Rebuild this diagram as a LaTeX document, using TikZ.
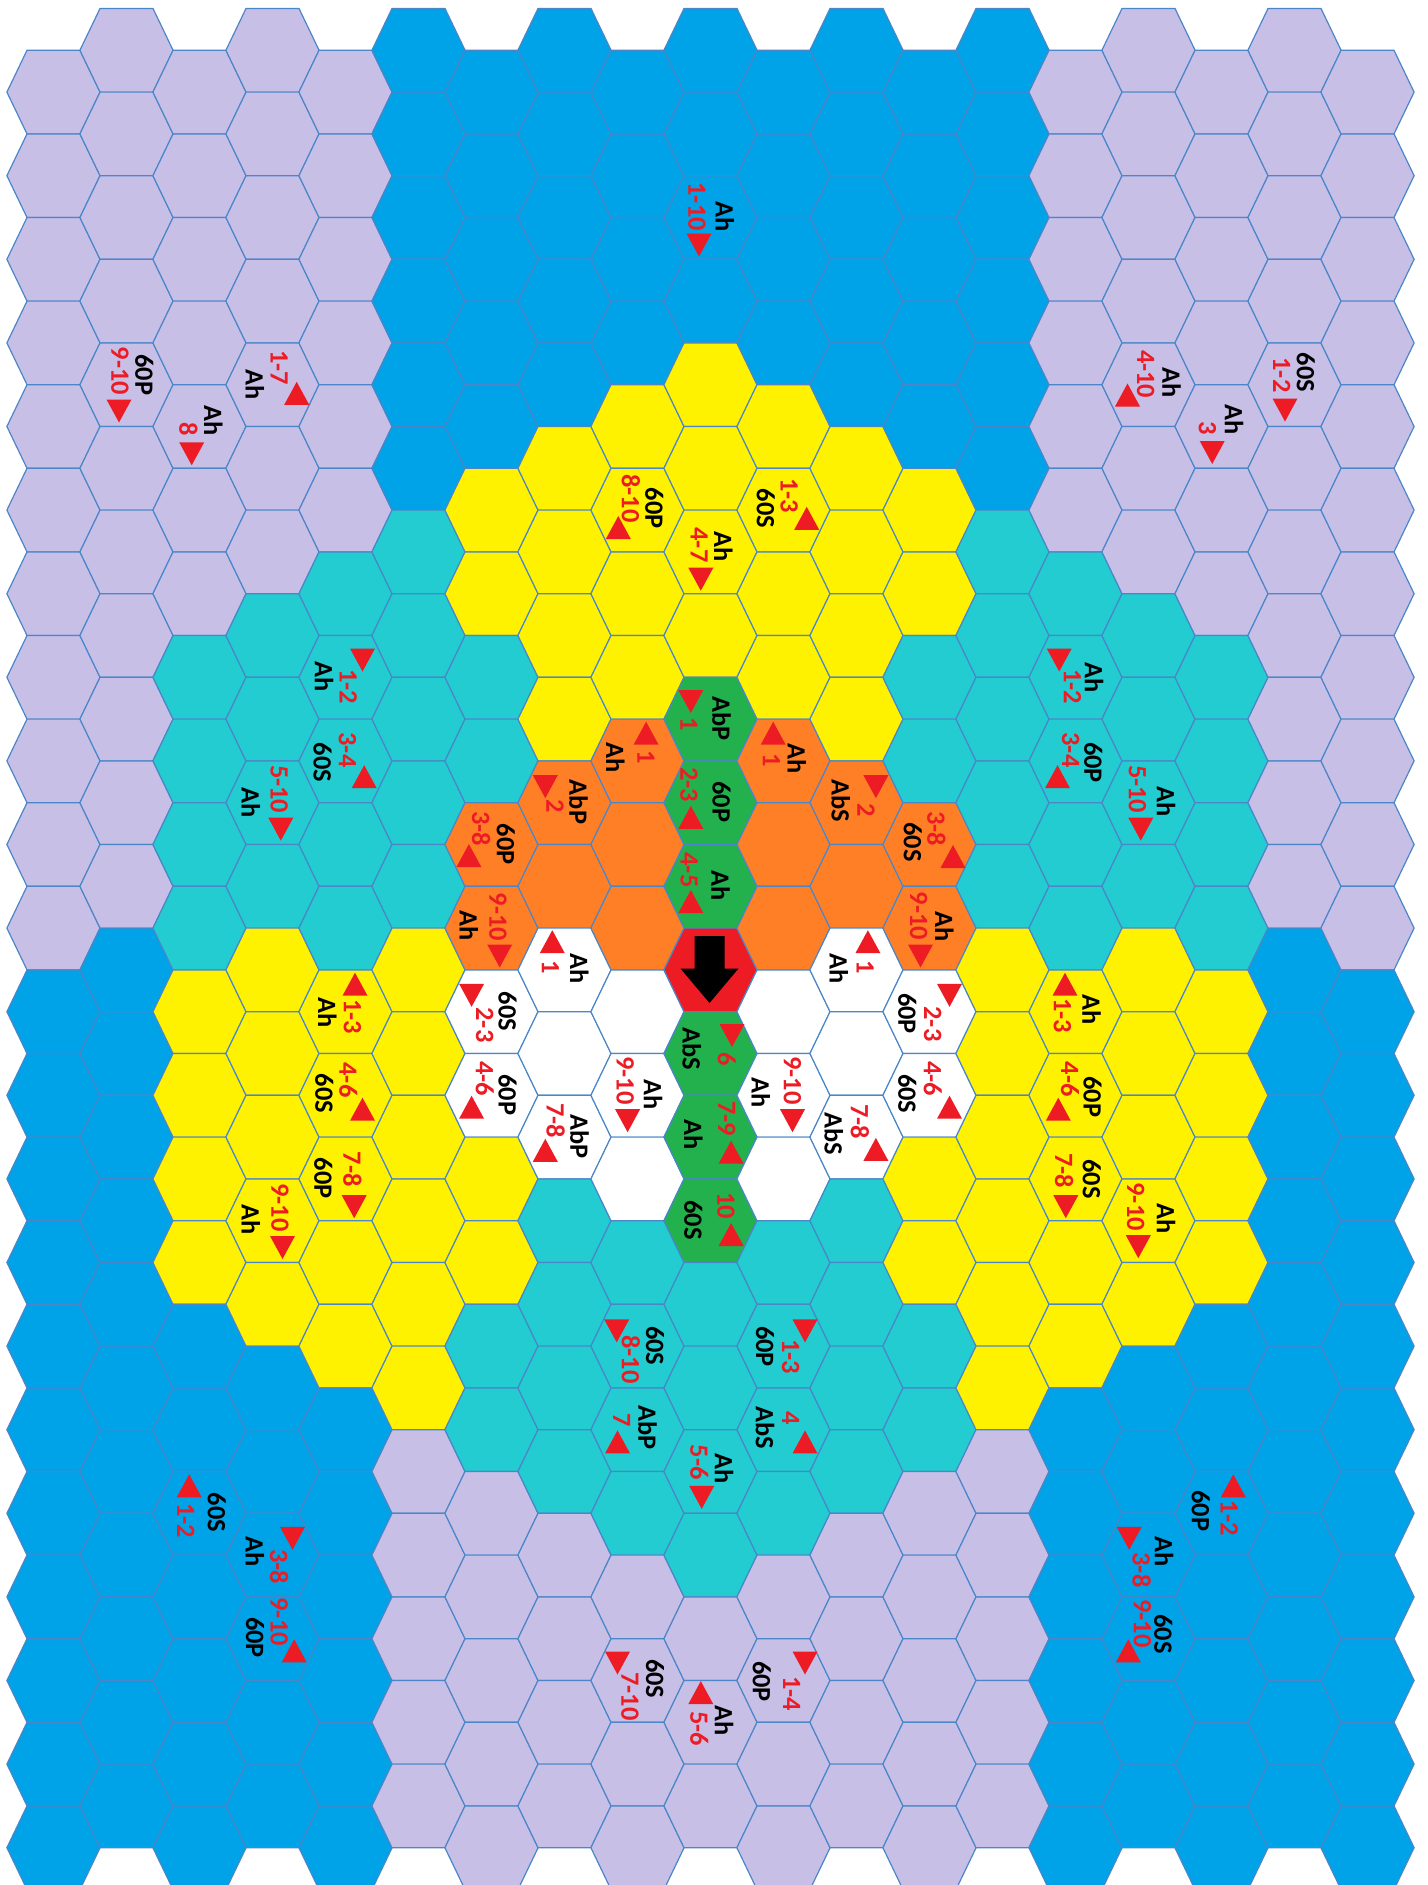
\documentclass[tikz,border=0pt]{standalone}
\usepackage{fontspec}
\setmainfont{Carlito}
\definecolor{clav}{HTML}{C8BFE7}
\definecolor{cblue}{HTML}{00A2E8}
\definecolor{cteal}{HTML}{22CCD0}
\definecolor{cyel}{HTML}{FFF200}
\definecolor{corange}{HTML}{FF7F27}
\definecolor{cgreen}{HTML}{22B14C}
\definecolor{cred}{HTML}{ED1C24}
\definecolor{cedge}{HTML}{4A86C8}
\tikzset{
  blk/.style={rotate=-90, inner sep=0pt, font=\fontsize{13.2}{14}\selectfont\bfseries, text=black},
  rd/.style={blk, text=cred},
  hexcell/.style={draw=cedge, line width=0.6pt}
}
\newcommand\lab[5]{\node[blk] (#1b) at (#2) {#3}; \node[rd] (#1r) at (#4) {#5};}
\newcommand\tridn[1]{\fill[cred,shift={(#1)}] (-12.5,-11.5)--(12.5,-11.5)--(0,11.5)--cycle;}
\newcommand\triup[1]{\fill[cred,shift={(#1)}] (-12.5,11.5)--(12.5,11.5)--(0,-11.5)--cycle;}
\begin{document}
\begin{tikzpicture}[x=0.5pt,y=-0.5pt]
\useasboundingbox (0,0) rectangle (1428,1885);
\clip (0,0) rectangle (1428,1885);
\fill[white] (0,0) rectangle (1428,1885);
\foreach \c in {0,...,18}{
  \foreach \r in {0,...,21}{
    \pgfmathtruncatemacro\hOdd{mod(\c,2)}
    \pgfmathtruncatemacro\hY{2*\r+1-\hOdd}
    \pgfmathtruncatemacro\hDx{abs(\c-9)}
    \pgfmathtruncatemacro\hDy{abs(\hY-22)}
    \pgfmathtruncatemacro\hDist{\hDx+max(0,(\hDy-\hDx)/2)}
    \pgfmathtruncatemacro\hBelow{\hY>21 ? 1 : 0}
    \pgfmathtruncatemacro\hNw{\hDy>3*\hDx-1 ? 1 : 0}
    \pgfmathtruncatemacro\hBigc{\hDx>4 ? 1 : 0}
    \ifnum\hDist=0 \def\hCol{cred}%
    \else\ifnum\hDist<4
      \ifnum\hDx=0 \def\hCol{cgreen}\else\ifnum\hBelow=1 \def\hCol{white}\else\def\hCol{corange}\fi\fi
    \else\ifnum\hDist<8
      \ifnum\hNw=\hBelow \def\hCol{cteal}\else\def\hCol{cyel}\fi
    \else
      \ifnum\hBigc=\hBelow \def\hCol{cblue}\else\def\hCol{clav}\fi
    \fi\fi\fi
    \pgfmathsetmacro\hX{710.5+73*(\c-9)}
    \pgfmathsetmacro\hYc{\hOdd==1 ? 50.3+83.6*\r : 92.1+83.6*\r}
    \filldraw[hexcell, fill=\hCol, shift={(\hX,\hYc)}] (-46.6,0) -- (-26.5,-41.8) -- (26.5,-41.8) -- (46.6,0) -- (26.5,41.8) -- (-26.5,41.8) -- cycle;
  }
}
% black arrow in the red hex
\fill[black, shift={(709.5,970)}] (-15,-34) -- (15,-34) -- (15,-1.5) -- (29,-1.5) -- (0,33) -- (-29,-1.5) -- (-15,-1.5) -- cycle;
% labels
\lab{a1}{725,216.7}{Ah}{697,206.7}{1-10}\tridn{699,245}
\lab{a2}{144.2,375}{60P}{120,370.8}{9-10}\tridn{119,411}
\lab{a3}{213.3,420.8}{Ah}{188.3,429}{8}\tridn{191.7,453.8}
\lab{a4}{255,384.2}{Ah}{279.2,367.5}{1-7}\triup{296.7,393.3}
\lab{a5}{1171.7,382.5}{Ah}{1145.8,374.2}{4-10}\triup{1127.5,395}
\lab{a6}{1234.2,420}{Ah}{1207.5,428.3}{3}\tridn{1212.2,452.5}
\lab{a7}{1305.8,372.5}{60S}{1281.7,375}{1-2}\tridn{1285,410}
\lab{a8}{654.2,508.3}{60P}{630.8,498.3}{8-10}\triup{618.3,527.5}
\lab{a9}{723.3,546.7}{Ah}{699.2,545}{4-7}\tridn{700.8,579.2}
\lab{a10}{765.8,508.3}{60S}{789.2,495.8}{1-3}\triup{806.7,518.3}
\lab{a11}{324.2,676.7}{Ah}{348.3,686.7}{1-2}\tridn{362.5,660}
\lab{a12}{322.5,762.5}{60S}{347.5,750}{3-4}\triup{364.2,776.7}
\lab{a13}{250.8,802.5}{Ah}{279.2,789.2}{5-10}\tridn{280.8,829.2}
\lab{a14}{1094.2,677.5}{Ah}{1072.5,686.7}{1-2}\tridn{1059.2,660}
\lab{a15}{1093.3,762.5}{60P}{1070.8,750}{3-4}\triup{1057.5,776.7}
\lab{a16}{1166,801.7}{Ah}{1137.5,789.2}{5-10}\tridn{1140.8,829.2}
\lab{a17}{721.5,718.8}{AbP}{689,724.5}{1}\tridn{690.8,701.5}
\lab{a18}{615.4,758}{Ah}{646,757.1}{1}\triup{646.1,733.2}
\lab{a19}{796.8,759}{Ah}{771.5,760}{1}\triup{773.2,733.2}
\lab{a20}{578.6,802}{AbP}{554.9,805.9}{2}\tridn{545.3,786.7}
\lab{a21}{840.8,801}{AbS}{866.1,809.7}{2}\tridn{875.9,786.7}
\lab{a22}{721.5,802}{60P}{689,784.8}{2-3}\triup{690.8,817.4}
\lab{a23}{505.8,844.2}{60P}{481.2,828.8}{3-8}\triup{468.9,855.6}
\lab{a24}{912.7,842.2}{60S}{936.3,828.8}{3-8}\triup{953,856.5}
\lab{a25}{720.6,885.2}{Ah}{689,870}{4-5}\triup{690.8,901.5}
\lab{a26}{469,925.5}{Ah}{497.9,916.8}{9-10}\tridn{499.7,956}
\lab{a27}{944.3,926.4}{Ah}{918.8,915.9}{9-10}\tridn{920.5,956}
\lab{a28}{579.5,968.5}{Ah}{550.5,967.6}{1}\triup{552.3,941.7}
\lab{a29}{839,968.5}{Ah}{865.3,967.6}{1}\triup{867.9,941.7}
\lab{a30}{507.6,1011.6}{60S}{484.8,1025}{2-3}\tridn{471.6,995.3}
\lab{a31}{907.4,1013.5}{60P}{932.8,1024}{2-3}\tridn{949.5,995.3}
\lab{a32}{691.7,1048.8}{AbS}{726.7,1059.4}{6}\tridn{732,1035.5}
\lab{a33}{653.1,1094.8}{Ah}{625.1,1080.5}{9-10}\tridn{627.6,1120.7}
\lab{a34}{761,1092.9}{Ah}{792.5,1080.5}{9-10}\tridn{792.5,1120.7}
\lab{a35}{507.6,1094.8}{60P}{484.8,1078.5}{4-6}\triup{471.6,1107.2}
\lab{a36}{907.4,1093.8}{60S}{932.8,1078.5}{4-6}\triup{949.5,1107.2}
\lab{a37}{693.4,1135}{Ah}{726.7,1118.7}{7-9}\triup{731.1,1152.2}
\lab{a38}{579.5,1136.9}{AbP}{555.7,1120.6}{7-8}\triup{545.3,1150.3}
\lab{a39}{833.7,1134}{AbS}{860,1121.6}{7-8}\triup{875.9,1149.4}
\lab{a40}{693.4,1220.1}{60S}{725.9,1205.8}{10}\triup{731.1,1234.5}
\lab{a41}{327.5,1012.5}{Ah}{352.5,1016.7}{1-3}\triup{355,984.2}
\lab{a42}{324.2,1093.3}{60S}{348.3,1080}{4-6}\triup{362.5,1109.2}
\lab{a43}{323.3,1178.3}{60P}{352.5,1169.2}{7-8}\tridn{354.2,1206.7}
\lab{a44}{251,1219.7}{Ah}{280,1207.5}{9-10}\tridn{282.5,1247.5}
\lab{a45}{1091.7,1010}{Ah}{1062.5,1015.8}{1-3}\triup{1065,984.2}
\lab{a46}{1092.5,1096.7}{60P}{1070,1079.2}{4-6}\triup{1058.3,1109.2}
\lab{a47}{1091.7,1179.2}{60S}{1064.2,1170.8}{7-8}\tridn{1065.8,1206.7}
\lab{a48}{1166,1218.7}{Ah}{1135.8,1206.7}{9-10}\tridn{1138.3,1246.7}
\lab{a49}{655,1345.7}{60S}{630.8,1359.6}{8-10}\tridn{616.7,1330.9}
\lab{a50}{765,1346.6}{60P}{790.8,1356.8}{1-3}\tridn{805,1330.9}
\lab{a51}{647.5,1427.1}{AbP}{621.7,1420.6}{7}\triup{617.5,1441.9}
\lab{a52}{765,1428}{AbS}{790.8,1417.8}{4}\triup{805,1441.9}
\lab{a53}{724.2,1468.7}{Ah}{699.2,1462.2}{5-6}\tridn{701.7,1497.4}
\lab{a54}{655,1678.7}{60S}{630,1696.3}{7-10}\tridn{617.5,1663}
\lab{a55}{761.7,1681.5}{60P}{791.7,1693.5}{1-4}\tridn{805,1663}
\lab{a56}{724.2,1720.3}{Ah}{699.2,1728.6}{5-6}\triup{700.8,1692.6}
\lab{a57}{216.7,1512.5}{60S}{185.8,1520.8}{1-2}\triup{189.2,1485.8}
\lab{a58}{255,1551.7}{Ah}{279.2,1566.7}{3-8}\tridn{292.5,1538.3}
\lab{a59}{255,1637.5}{60P}{279.2,1621.7}{9-10}\triup{294.2,1650.8}
\lab{a60}{1200.8,1510.8}{60P}{1229.2,1518.3}{1-2}\triup{1233.3,1485.8}
\lab{a61}{1164.2,1551.7}{Ah}{1141.7,1570}{3-8}\tridn{1129.2,1538.3}
\lab{a62}{1163.3,1634.2}{60S}{1142.5,1623.3}{9-10}\triup{1128.3,1650.8}
\end{tikzpicture}
\end{document}
